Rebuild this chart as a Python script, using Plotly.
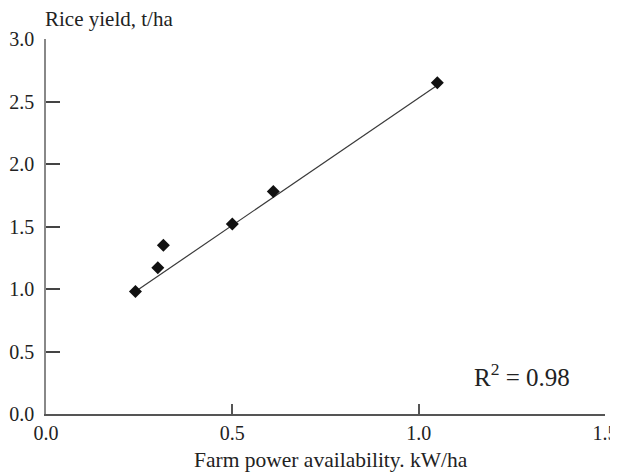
import plotly.graph_objects as go

# Farm power availability (kW/ha) vs rice yield (t/ha)
power = [0.24, 0.30, 0.315, 0.50, 0.61, 1.05]
rice_yield = [0.98, 1.17, 1.35, 1.52, 1.78, 2.65]

# trend line ends
trend_x = [0.24, 1.05]
trend_y = [0.98, 2.63]

x_ticks = [0.0, 0.5, 1.0, 1.5]
y_ticks = [0.0, 0.5, 1.0, 1.5, 2.0, 2.5, 3.0]

font = "Liberation Serif, Times New Roman, serif"

fig = go.Figure()
fig.add_trace(go.Scatter(x=trend_x, y=trend_y, mode="lines",
                         line=dict(color="#3a3a3a", width=1.2), showlegend=False))
fig.add_trace(go.Scatter(x=power, y=rice_yield, mode="markers",
                         marker=dict(symbol="diamond", size=10, color="#111111"),
                         showlegend=False))

# page body has an 8px margin, so the figure is a bit smaller than the window
fig.update_layout(
    width=610, height=467,
    margin=dict(l=38, r=13, t=31, b=61),
    paper_bgcolor="white", plot_bgcolor="white",
    font=dict(family=font, size=20, color="#222222"),
)

fig.update_xaxes(range=[0, 1.5], tickvals=x_ticks, ticktext=[f"{v:.1f}" for v in x_ticks],
                 showgrid=False, zeroline=False, showline=True, linecolor="#555555", linewidth=1.5,
                 ticks="inside", ticklen=10, tickwidth=1.5, tickcolor="#555555", automargin=False,
                 ticklabeloverflow="allow", tickfont=dict(family=font, size=20))
fig.update_yaxes(range=[0, 3], tickvals=y_ticks, ticktext=[f"{v:.1f}" for v in y_ticks],
                 showgrid=False, zeroline=False, showline=True, linecolor="#888888", linewidth=1.5,
                 ticks="inside", ticklen=14, tickwidth=1.5, tickcolor="#444444", automargin=False,
                 ticklabelstandoff=6, ticklabeloverflow="allow", tickfont=dict(family=font, size=20))

# axis titles
fig.add_annotation(text="Rice yield, t/ha", xref="paper", yref="paper", x=-0.005, y=1.0,
                   yshift=20, xanchor="left", yanchor="middle", showarrow=False,
                   font=dict(family=font, size=21))
fig.add_annotation(text="Farm power availability. kW/ha", xref="paper", yref="paper", x=0.51, y=0,
                   yshift=-46, xanchor="center", yanchor="middle", showarrow=False,
                   font=dict(family=font, size=21.5))

fig.add_annotation(text="R<sup>2</sup> = 0.98", xref="x", yref="y", x=1.278, y=0.31,
                   xanchor="center", yanchor="middle", showarrow=False,
                   font=dict(family=font, size=25))

fig.write_html("out.html")
